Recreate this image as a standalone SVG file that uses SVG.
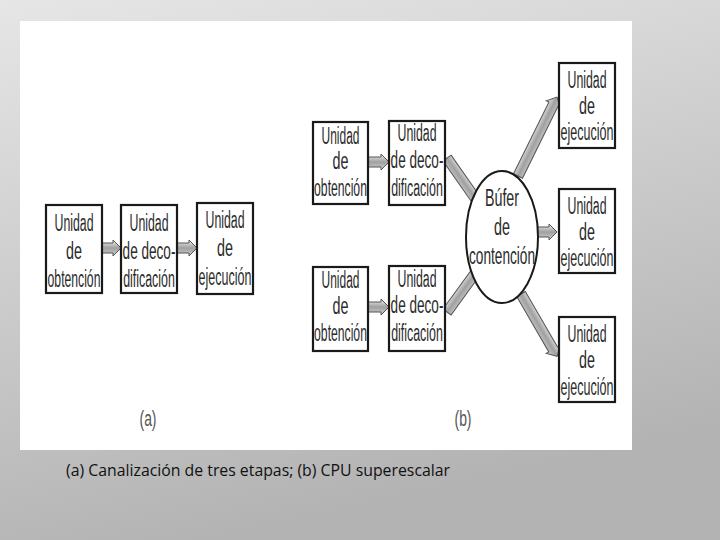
<svg xmlns="http://www.w3.org/2000/svg" width="720" height="540" viewBox="0 0 720 540">
<defs>
<linearGradient id="bg" x1="0" y1="0" x2="0.3" y2="1">
<stop offset="0" stop-color="#e6e6e6"/>
<stop offset="1" stop-color="#b3b3b3"/>
</linearGradient>
<linearGradient id="arr" x1="0" y1="0" x2="0" y2="1">
<stop offset="0" stop-color="#f0f0f0"/>
<stop offset="0.5" stop-color="#a0a0a0"/>
<stop offset="1" stop-color="#d0d0d0"/>
</linearGradient>
</defs>
<style>
.box{fill:#fff;stroke:#1a1a1a;stroke-width:2.2}
.t{font-family:"Liberation Sans",Arial,sans-serif;font-size:23px;fill:#2b2b2b;text-anchor:middle}
.lbl{font-family:"Liberation Sans",Arial,sans-serif;font-size:22px;fill:#555;text-anchor:middle}
.cap{font-family:"Open Sans","Liberation Sans",sans-serif;font-size:16px;fill:#111}
.arrow{fill:url(#arr);stroke:#555;stroke-width:1}
</style>
<rect x="0" y="0" width="720" height="540" fill="url(#bg)"/>
<rect x="20" y="21" width="612" height="429" fill="#fff"/>

<g id="connectors">
<path class="arrow" transform="translate(102,248)" d="M0,-5 H11 V-8 L19,0 L11,8 V5 H0 Z"/>
<path class="arrow" transform="translate(177,248)" d="M0,-5 H12 V-8 L20,0 L12,8 V5 H0 Z"/>
<path class="arrow" transform="translate(368,162)" d="M0,-5 H13 V-8 L21,0 L13,8 V5 H0 Z"/>
<path class="arrow" transform="translate(368,307)" d="M0,-5 H13 V-8 L21,0 L13,8 V5 H0 Z"/>
<path class="arrow" transform="translate(447,158) rotate(55)" d="M0,-5 H53 V-8 L61,0 L53,8 V5 H0 Z"/>
<path class="arrow" transform="translate(447,312) rotate(-54)" d="M0,-5 H51 V-8 L59,0 L51,8 V5 H0 Z"/>
<path class="arrow" transform="translate(518,176) rotate(-63.7)" d="M0,-5 H80 V-8 L88,0 L80,8 V5 H0 Z"/>
<path class="arrow" transform="translate(521,294) rotate(59.9)" d="M0,-5 H64 V-8 L72,0 L64,8 V5 H0 Z"/>
<path class="arrow" transform="translate(537,232)" d="M0,-5 H12 V-8 L20,0 L12,8 V5 H0 Z"/>
</g>

<g id="a-obtencion">
<rect class="box" x="46" y="205" width="56" height="88"/>
<g transform="translate(74,0) scale(0.55,1)">
<text class="t" x="0" y="231" textLength="71" lengthAdjust="spacingAndGlyphs">Unidad</text>
<text class="t" x="0" y="259" textLength="29" lengthAdjust="spacingAndGlyphs">de</text>
<text class="t" x="0" y="287" textLength="96" lengthAdjust="spacingAndGlyphs">obtención</text>
</g>
</g>
<g id="a-decodificacion">
<rect class="box" x="121" y="205" width="56" height="88"/>
<g transform="translate(149,0) scale(0.55,1)">
<text class="t" x="0" y="231" textLength="71" lengthAdjust="spacingAndGlyphs">Unidad</text>
<text class="t" x="0" y="259" textLength="96" lengthAdjust="spacingAndGlyphs">de deco-</text>
<text class="t" x="0" y="287" textLength="94" lengthAdjust="spacingAndGlyphs">dificación</text>
</g>
</g>
<g id="a-ejecucion">
<rect class="box" x="197" y="203" width="56" height="91"/>
<g transform="translate(225,0) scale(0.55,1)">
<text class="t" x="0" y="228" textLength="71" lengthAdjust="spacingAndGlyphs">Unidad</text>
<text class="t" x="0" y="256" textLength="29" lengthAdjust="spacingAndGlyphs">de</text>
<text class="t" x="0" y="285" textLength="96" lengthAdjust="spacingAndGlyphs">ejecución</text>
</g>
</g>

<g id="b-obtencion-1">
<rect class="box" x="313" y="122" width="55" height="82"/>
<g transform="translate(340.5,0) scale(0.55,1)">
<text class="t" x="0" y="144" textLength="69" lengthAdjust="spacingAndGlyphs">Unidad</text>
<text class="t" x="0" y="169" textLength="29" lengthAdjust="spacingAndGlyphs">de</text>
<text class="t" x="0" y="196" textLength="96" lengthAdjust="spacingAndGlyphs">obtención</text>
</g>
</g>
<g id="b-decodificacion-1">
<rect class="box" x="389" y="121" width="56" height="84"/>
<g transform="translate(417,0) scale(0.55,1)">
<text class="t" x="0" y="141" textLength="71" lengthAdjust="spacingAndGlyphs">Unidad</text>
<text class="t" x="0" y="168" textLength="96" lengthAdjust="spacingAndGlyphs">de deco-</text>
<text class="t" x="0" y="196" textLength="94" lengthAdjust="spacingAndGlyphs">dificación</text>
</g>
</g>
<g id="b-obtencion-2">
<rect class="box" x="313" y="267" width="55" height="84"/>
<g transform="translate(340.5,0) scale(0.55,1)">
<text class="t" x="0" y="288" textLength="69" lengthAdjust="spacingAndGlyphs">Unidad</text>
<text class="t" x="0" y="314" textLength="29" lengthAdjust="spacingAndGlyphs">de</text>
<text class="t" x="0" y="341" textLength="96" lengthAdjust="spacingAndGlyphs">obtención</text>
</g>
</g>
<g id="b-decodificacion-2">
<rect class="box" x="389" y="266" width="56" height="85"/>
<g transform="translate(417,0) scale(0.55,1)">
<text class="t" x="0" y="287" textLength="71" lengthAdjust="spacingAndGlyphs">Unidad</text>
<text class="t" x="0" y="313" textLength="96" lengthAdjust="spacingAndGlyphs">de deco-</text>
<text class="t" x="0" y="341" textLength="94" lengthAdjust="spacingAndGlyphs">dificación</text>
</g>
</g>

<g id="b-bufer">
<ellipse cx="502" cy="237" rx="36" ry="66" fill="#fff" stroke="#1a1a1a" stroke-width="2"/>
<g transform="translate(502,0) scale(0.55,1)">
<text class="t" x="0" y="206" textLength="62" lengthAdjust="spacingAndGlyphs">Búfer</text>
<text class="t" x="0" y="235" textLength="29" lengthAdjust="spacingAndGlyphs">de</text>
<text class="t" x="0" y="264" textLength="120" lengthAdjust="spacingAndGlyphs">contención</text>
</g>
</g>

<g id="b-ejecucion-1">
<rect class="box" x="559" y="63" width="56" height="85"/>
<g transform="translate(587,0) scale(0.55,1)">
<text class="t" x="0" y="88" textLength="71" lengthAdjust="spacingAndGlyphs">Unidad</text>
<text class="t" x="0" y="114" textLength="29" lengthAdjust="spacingAndGlyphs">de</text>
<text class="t" x="0" y="140" textLength="96" lengthAdjust="spacingAndGlyphs">ejecución</text>
</g>
</g>
<g id="b-ejecucion-2">
<rect class="box" x="559" y="189" width="56" height="84"/>
<g transform="translate(587,0) scale(0.55,1)">
<text class="t" x="0" y="214" textLength="71" lengthAdjust="spacingAndGlyphs">Unidad</text>
<text class="t" x="0" y="240" textLength="29" lengthAdjust="spacingAndGlyphs">de</text>
<text class="t" x="0" y="266" textLength="96" lengthAdjust="spacingAndGlyphs">ejecución</text>
</g>
</g>
<g id="b-ejecucion-3">
<rect class="box" x="559" y="317" width="56" height="85"/>
<g transform="translate(587,0) scale(0.55,1)">
<text class="t" x="0" y="342" textLength="71" lengthAdjust="spacingAndGlyphs">Unidad</text>
<text class="t" x="0" y="368" textLength="29" lengthAdjust="spacingAndGlyphs">de</text>
<text class="t" x="0" y="395" textLength="96" lengthAdjust="spacingAndGlyphs">ejecución</text>
</g>
</g>

<text class="lbl" x="148" y="426" textLength="17" lengthAdjust="spacingAndGlyphs">(a)</text>
<text class="lbl" x="463" y="426" textLength="17" lengthAdjust="spacingAndGlyphs">(b)</text>
<text class="cap" x="66" y="476" textLength="384" lengthAdjust="spacingAndGlyphs">(a) Canalización de tres etapas; (b) CPU superescalar</text>
</svg>
